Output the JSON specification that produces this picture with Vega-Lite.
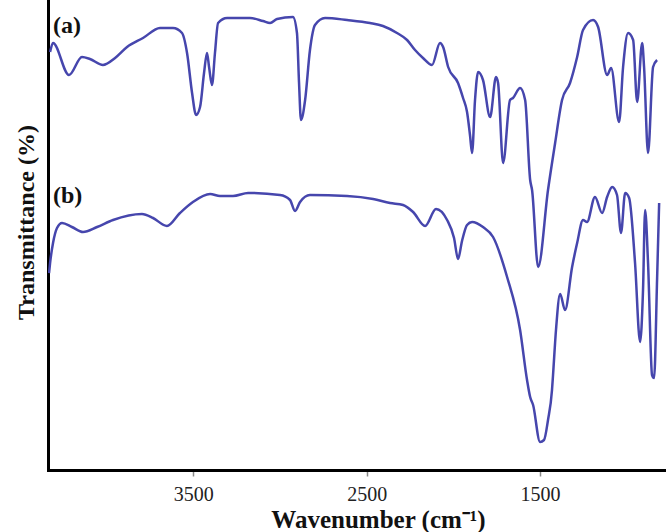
{
  "$schema": "https://vega.github.io/schema/vega-lite/v6.json",
  "width": 616,
  "height": 470,
  "autosize": "none",
  "padding": {"left": 48, "top": 0, "right": 2, "bottom": 62},
  "background": "white",
  "config": {"view": {"stroke": null}},
  "datasets": {
    "spectra": [
      {"series":"a","wn":4326,"t":418},{"series":"a","wn":4309,"t":427},{"series":"a","wn":4217,"t":395},{"series":"a","wn":4142,"t":413},
      {"series":"a","wn":4096,"t":411},{"series":"a","wn":4021,"t":405},{"series":"a","wn":3951,"t":412},{"series":"a","wn":3882,"t":423},
      {"series":"a","wn":3790,"t":432},{"series":"a","wn":3692,"t":442},{"series":"a","wn":3617,"t":442},{"series":"a","wn":3565,"t":437},
      {"series":"a","wn":3536,"t":417},{"series":"a","wn":3507,"t":377},{"series":"a","wn":3484,"t":355},{"series":"a","wn":3461,"t":363},
      {"series":"a","wn":3438,"t":397},{"series":"a","wn":3421,"t":417},{"series":"a","wn":3409,"t":403},{"series":"a","wn":3392,"t":385},
      {"series":"a","wn":3375,"t":417},{"series":"a","wn":3357,"t":447},{"series":"a","wn":3305,"t":452},{"series":"a","wn":3173,"t":452},
      {"series":"a","wn":3098,"t":449},{"series":"a","wn":3057,"t":447},{"series":"a","wn":3017,"t":451},{"series":"a","wn":2925,"t":453},
      {"series":"a","wn":2902,"t":437},{"series":"a","wn":2890,"t":387},{"series":"a","wn":2879,"t":350},{"series":"a","wn":2855,"t":370},
      {"series":"a","wn":2827,"t":420},{"series":"a","wn":2798,"t":445},{"series":"a","wn":2740,"t":452},{"series":"a","wn":2613,"t":450},
      {"series":"a","wn":2481,"t":447},{"series":"a","wn":2406,"t":444},{"series":"a","wn":2325,"t":437},{"series":"a","wn":2267,"t":430},
      {"series":"a","wn":2221,"t":420},{"series":"a","wn":2175,"t":412},{"series":"a","wn":2123,"t":405},{"series":"a","wn":2077,"t":427},
      {"series":"a","wn":2059,"t":423},{"series":"a","wn":2030,"t":403},{"series":"a","wn":1973,"t":387},{"series":"a","wn":1944,"t":372},
      {"series":"a","wn":1921,"t":358},{"series":"a","wn":1904,"t":335},{"series":"a","wn":1892,"t":317},{"series":"a","wn":1875,"t":370},
      {"series":"a","wn":1857,"t":398},{"series":"a","wn":1829,"t":390},{"series":"a","wn":1788,"t":353},{"series":"a","wn":1754,"t":393},
      {"series":"a","wn":1742,"t":387},{"series":"a","wn":1713,"t":307},{"series":"a","wn":1673,"t":370},{"series":"a","wn":1656,"t":372},
      {"series":"a","wn":1615,"t":382},{"series":"a","wn":1586,"t":370},{"series":"a","wn":1557,"t":290},{"series":"a","wn":1546,"t":280},
      {"series":"a","wn":1511,"t":203},{"series":"a","wn":1454,"t":280},{"series":"a","wn":1413,"t":327},{"series":"a","wn":1373,"t":370},
      {"series":"a","wn":1327,"t":387},{"series":"a","wn":1286,"t":413},{"series":"a","wn":1252,"t":440},{"series":"a","wn":1194,"t":450},
      {"series":"a","wn":1165,"t":443},{"series":"a","wn":1113,"t":395},{"series":"a","wn":1090,"t":402},{"series":"a","wn":1044,"t":348},
      {"series":"a","wn":1021,"t":403},{"series":"a","wn":992,"t":437},{"series":"a","wn":963,"t":430},{"series":"a","wn":940,"t":368},
      {"series":"a","wn":911,"t":427},{"series":"a","wn":900,"t":403},{"series":"a","wn":877,"t":317},{"series":"a","wn":848,"t":403},
      {"series":"a","wn":825,"t":410},
      {"series":"b","wn":4332,"t":197},{"series":"b","wn":4326,"t":207},{"series":"b","wn":4309,"t":227},{"series":"b","wn":4286,"t":242},
      {"series":"b","wn":4257,"t":247},{"series":"b","wn":4200,"t":243},{"series":"b","wn":4136,"t":238},{"series":"b","wn":4055,"t":243},
      {"series":"b","wn":3963,"t":250},{"series":"b","wn":3796,"t":256},{"series":"b","wn":3732,"t":252},{"series":"b","wn":3652,"t":244},
      {"series":"b","wn":3577,"t":257},{"series":"b","wn":3502,"t":268},{"series":"b","wn":3403,"t":276},{"series":"b","wn":3346,"t":274},
      {"series":"b","wn":3271,"t":274},{"series":"b","wn":3184,"t":277},{"series":"b","wn":3000,"t":275},{"series":"b","wn":2942,"t":270},
      {"series":"b","wn":2913,"t":259},{"series":"b","wn":2884,"t":268},{"series":"b","wn":2827,"t":275},{"series":"b","wn":2613,"t":274},
      {"series":"b","wn":2463,"t":271},{"series":"b","wn":2365,"t":267},{"series":"b","wn":2290,"t":265},{"series":"b","wn":2232,"t":258},
      {"series":"b","wn":2163,"t":244},{"series":"b","wn":2100,"t":261},{"series":"b","wn":2036,"t":250},{"series":"b","wn":1996,"t":232},
      {"series":"b","wn":1973,"t":211},{"series":"b","wn":1950,"t":229},{"series":"b","wn":1921,"t":245},{"series":"b","wn":1892,"t":248},
      {"series":"b","wn":1829,"t":243},{"series":"b","wn":1771,"t":233},{"series":"b","wn":1690,"t":193},{"series":"b","wn":1615,"t":140},
      {"series":"b","wn":1575,"t":90},{"series":"b","wn":1557,"t":73},{"series":"b","wn":1540,"t":65},{"series":"b","wn":1500,"t":28},
      {"series":"b","wn":1477,"t":30},{"series":"b","wn":1454,"t":50},{"series":"b","wn":1431,"t":80},{"series":"b","wn":1425,"t":95},
      {"series":"b","wn":1408,"t":140},{"series":"b","wn":1384,"t":176},{"series":"b","wn":1356,"t":160},{"series":"b","wn":1315,"t":203},
      {"series":"b","wn":1286,"t":227},{"series":"b","wn":1252,"t":250},{"series":"b","wn":1229,"t":248},{"series":"b","wn":1183,"t":273},
      {"series":"b","wn":1142,"t":257},{"series":"b","wn":1113,"t":273},{"series":"b","wn":1084,"t":283},{"series":"b","wn":1056,"t":275},
      {"series":"b","wn":1033,"t":237},{"series":"b","wn":1009,"t":277},{"series":"b","wn":986,"t":272},{"series":"b","wn":952,"t":207},
      {"series":"b","wn":923,"t":128},{"series":"b","wn":906,"t":180},{"series":"b","wn":894,"t":260},{"series":"b","wn":877,"t":207},
      {"series":"b","wn":854,"t":95},{"series":"b","wn":842,"t":92},{"series":"b","wn":825,"t":190},{"series":"b","wn":813,"t":267}
    ],
    "labels": [
      {"label":"(a)","wn":4309,"t":437},
      {"label":"(b)","wn":4309,"t":267}
    ]
  },
  "layer": [
    {
      "data": {"name": "spectra"},
      "mark": {"type": "line", "color": "#4646ad", "strokeWidth": 2.5, "interpolate": "monotone", "clip": true},
      "encoding": {
        "x": {
          "field": "wn", "type": "quantitative",
          "scale": {"domain": [4338, 785], "nice": false, "zero": false},
          "axis": {
            "values": [3500, 2500, 1500],
            "format": "d",
            "title": "Wavenumber (cm⁻¹)",
            "grid": false,
            "domainColor": "black", "domainWidth": 3, "domainCap": "square",
            "tickColor": "#888888", "tickSize": 6, "tickWidth": 1.5,
            "labelFont": "Liberation Serif", "labelFontSize": 20, "labelColor": "#222222",
            "labelBaseline": "alphabetic", "labelPadding": 24.5,
            "titleFont": "Liberation Serif", "titleFontSize": 25, "titleFontWeight": "bold", "titleColor": "#111111",
            "titleBaseline": "alphabetic", "titleY": 57, "titleX": 330, "titleAlign": "center", "titleAnchor": "start"
          }
        },
        "y": {
          "field": "t", "type": "quantitative",
          "scale": {"domain": [0, 470], "nice": false, "zero": false},
          "axis": {
            "ticks": false, "labels": false, "grid": false,
            "domainColor": "black", "domainWidth": 3, "domainCap": "square",
            "title": "Transmittance (%)",
            "titleFont": "Liberation Serif", "titleFontSize": 24, "titleFontWeight": "bold", "titleColor": "#111111",
            "titleBaseline": "alphabetic", "titleX": -15, "titleY": 222, "titleAlign": "center", "titleAnchor": "start"
          }
        },
        "detail": {"field": "series", "type": "nominal"}
      }
    },
    {
      "data": {"name": "labels"},
      "mark": {"type": "text", "align": "left", "baseline": "alphabetic", "font": "Liberation Serif", "fontSize": 24, "fontWeight": "bold", "color": "#111111"},
      "encoding": {
        "x": {"field": "wn", "type": "quantitative"},
        "y": {"field": "t", "type": "quantitative"},
        "text": {"field": "label"}
      }
    },
    {
      "mark": {"type": "rule", "color": "#333333", "strokeWidth": 2},
      "encoding": {"x": {"datum": 785, "type": "quantitative"}}
    }
  ]
}
